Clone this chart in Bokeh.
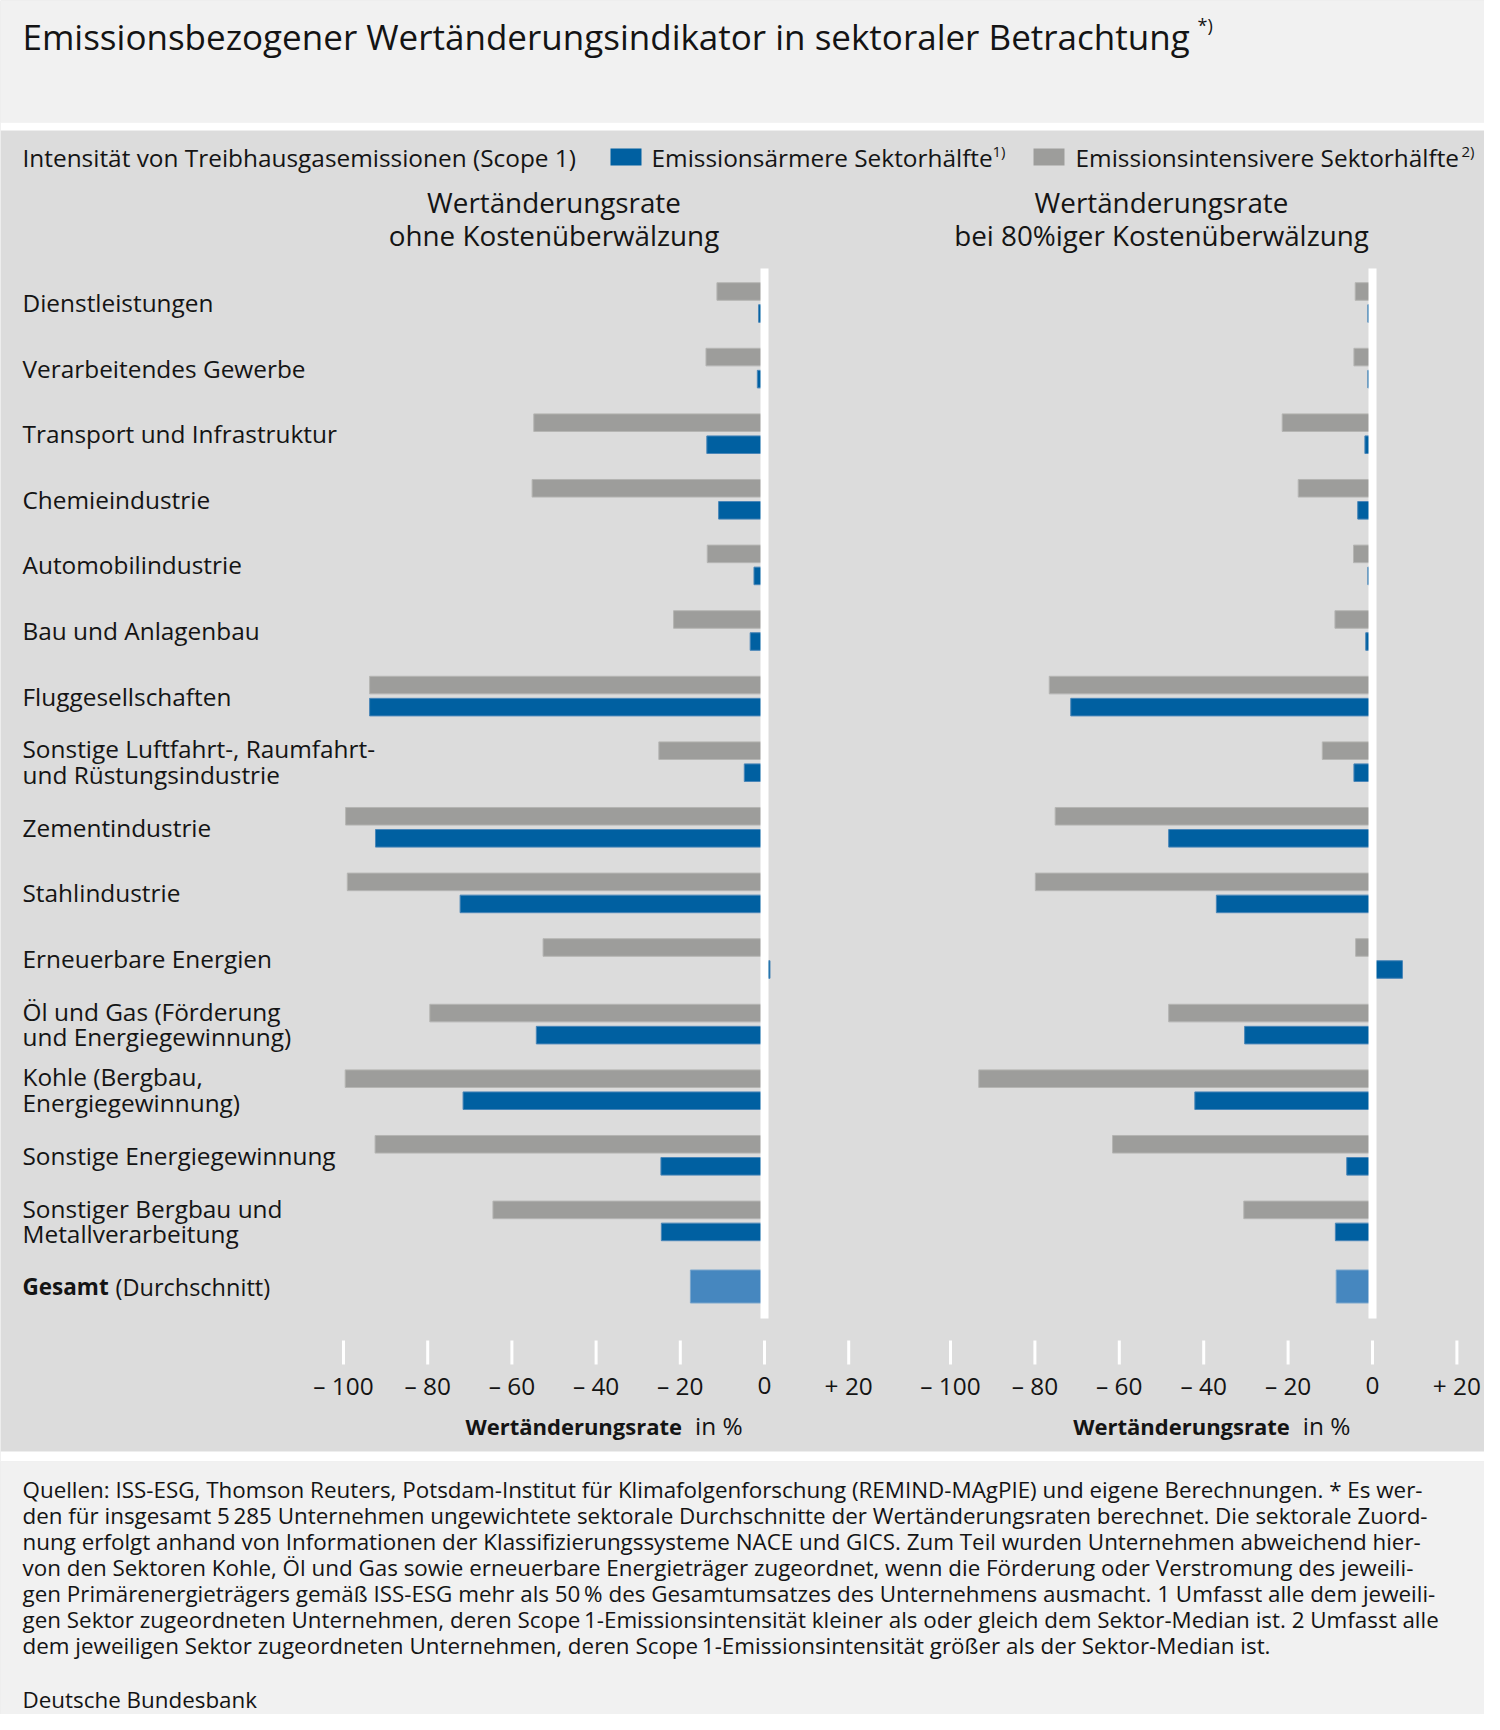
import numpy as np
from bokeh.plotting import figure
from bokeh.models import Range1d, ColumnDataSource
from bokeh.core.properties import value
from bokeh.embed import file_html
from bokeh.resources import INLINE

# ---------------- data ----------------
sectors = [
    "Dienstleistungen",
    "Verarbeitendes Gewerbe",
    "Transport und Infrastruktur",
    "Chemieindustrie",
    "Automobilindustrie",
    "Bau und Anlagenbau",
    "Fluggesellschaften",
    "Sonstige Luftfahrt-, Raumfahrt-\nund Rüstungsindustrie",
    "Zementindustrie",
    "Stahlindustrie",
    "Erneuerbare Energien",
    "Öl und Gas (Förderung\nund Energiegewinnung)",
    "Kohle (Bergbau,\nEnergiegewinnung)",
    "Sonstige Energiegewinnung",
    "Sonstiger Bergbau und\nMetallverarbeitung",
]
# Wertänderungsrate ohne Kostenüberwälzung (in %)
ohne_aermer = [-1.4, -1.7, -13.7, -10.9, -2.5, -3.4, -93.8, -4.8, -92.4, -72.3, 1.3, -54.2, -71.6, -24.6, -24.5]
ohne_intensiver = [-11.3, -13.9, -54.8, -55.2, -13.6, -21.6, -93.8, -25.1, -99.5, -99.1, -52.6, -79.5, -99.6, -92.5, -64.5]
# Wertänderungsrate bei 80%iger Kostenüberwälzung (in %)
k80_aermer = [-1.1, -1.1, -1.8, -3.5, -1.1, -1.6, -71.5, -4.4, -48.3, -37.0, 7.1, -30.3, -42.1, -6.1, -8.8]
k80_intensiver = [-4.1, -4.4, -21.4, -17.6, -4.5, -8.9, -76.6, -11.9, -75.2, -79.9, -4.0, -48.3, -93.3, -61.6, -30.5]
# Gesamt (Durchschnitt)
gesamt_label = ["Gesamt", "(Durchschnitt)"]
gesamt_ohne = -17.6
gesamt_k80 = -8.6

tick_values = [-100, -80, -60, -40, -20, 0, 20]
tick_labels = ["\u2013 100", "\u2013 80", "\u2013 60", "\u2013 40", "\u2013 20", "0", "+ 20"]

title = "Emissionsbezogener Wertänderungsindikator in sektoraler Betrachtung"
legend_title = "Intensität von Treibhausgasemissionen (Scope 1)"
legend_items = ["Emissionsärmere Sektorhälfte", "Emissionsintensivere Sektorhälfte"]
panel_titles = [["Wertänderungsrate", "ohne Kostenüberwälzung"],
                ["Wertänderungsrate", "bei 80%iger Kostenüberwälzung"]]
axis_title = ["Wertänderungsrate", "in %"]
footnote_lines = [
    "Quellen: ISS-ESG, Thomson Reuters, Potsdam-Institut für Klimafolgenforschung (REMIND-MAgPIE) und eigene Berechnungen. * Es wer-",
    "den für insgesamt 5\u2009285 Unternehmen ungewichtete sektorale Durchschnitte der Wertänderungsraten berechnet. Die sektorale Zuord-",
    "nung erfolgt anhand von Informationen der Klassifizierungssysteme NACE und GICS. Zum Teil wurden Unternehmen abweichend hier-",
    "von den Sektoren Kohle, Öl und Gas sowie erneuerbare Energieträger zugeordnet, wenn die Förderung oder Verstromung des jeweili-",
    "gen Primärenergieträgers gemäß ISS-ESG mehr als 50\u2009% des Gesamtumsatzes des Unternehmens ausmacht. 1 Umfasst alle dem jeweili-",
    "gen Sektor zugeordneten Unternehmen, deren Scope\u20091-Emissionsintensität kleiner als oder gleich dem Sektor-Median ist. 2 Umfasst alle",
    "dem jeweiligen Sektor zugeordneten Unternehmen, deren Scope\u20091-Emissionsintensität größer als der Sektor-Median ist.",
]
source_line = "Deutsche Bundesbank"

# ---------------- styles / layout ----------------
FONT = "Open Sans"
TXT = "#141414"
BLUE = "#0060a1"
GRAY = "#9d9d9b"
LBLUE = "#4687bf"
PANEL_BG = "#dcdcdc"
BAND_BG = "#f1f1f1"

PAGE_W, PAGE_H, M = 1500, 1730, 8
W, H = PAGE_W - 2 * M, PAGE_H - 2 * M

# panel scale: zero position (px) and px per percentage point
PANELS = {"L": (764.0, 4.21), "R": (1372.0, 4.22)}
ROW0, ROW_H = 302.0, 65.6

p = figure(width=W, height=H, output_backend="svg", toolbar_location=None,
           x_range=Range1d(0, W), y_range=Range1d(H, 0),
           x_axis_location=None, y_axis_location=None, min_border=0,
           outline_line_color=None, background_fill_color=PANEL_BG,
           border_fill_color="white")
p.grid.grid_line_color = None
p.extra_x_ranges = {k: Range1d((0 - z) / s, (W - z) / s) for k, (z, s) in PANELS.items()}
p.extra_y_ranges = {"rows": Range1d((H - ROW0) / ROW_H, (0 - ROW0) / ROW_H)}

# background bands
p.quad(left=[0, 0, 0], right=[PAGE_W] * 3, top=[0, 122, 1451], bottom=[122, 130, 1461],
       fill_color=[BAND_BG, "white", "white"], line_color=None)
p.quad(left=0, right=PAGE_W, top=1461, bottom=PAGE_H, fill_color=BAND_BG, line_color=None)

def txt(x, y, text, size, bold=False, align="left", baseline="middle", **kw):
    p.text(x=x, y=y, text=text, text_font=value(FONT), text_font_size=size,
           text_font_style="bold" if bold else "normal", text_align=align,
           text_baseline=baseline, text_color=TXT, **kw)

# title
txt([22], [36], [title], "35px")
txt([1197], [24], ["*)"], "18px")

# legend
txt([22], [157], [legend_title], "24.4px")
p.quad(left=[610, 1033], right=[641, 1064], top=[148, 148], bottom=[165, 165],
       fill_color=[BLUE, GRAY], line_color=None)
txt([651, 1075], [157, 157], legend_items, "24.4px")
txt([992, 1461], [150, 150], ["1)", "2)"], "15px")

# bars
n = len(sectors)
idx = np.arange(n)
for name, aermer, intens, tot, ptitle in [("L", ohne_aermer, ohne_intensiver, gesamt_ohne, panel_titles[0]),
                                           ("R", k80_aermer, k80_intensiver, gesamt_k80, panel_titles[1])]:
    src = ColumnDataSource(dict(y_i=idx - 0.168, y_a=idx + 0.168, intens=intens, aermer=aermer))
    p.hbar(y="y_i", height=0.268, left=0, right="intens", source=src, fill_color=GRAY,
           line_color="#b5b5b3", line_width=1, x_range_name=name, y_range_name="rows")
    p.hbar(y="y_a", height=0.268, left=0, right="aermer", source=src, fill_color=BLUE,
           line_color="#4a86b8", line_width=1, x_range_name=name, y_range_name="rows")
    p.hbar(y=[n], height=0.503, left=0, right=[tot], fill_color=LBLUE,
           line_color="#7aa6cc", line_width=1, x_range_name=name, y_range_name="rows")
    # zero line
    p.segment(x0=[0], y0=[268], x1=[0], y1=[1318], line_color="white", line_width=8,
              x_range_name=name)
    # ticks
    p.segment(x0=tick_values, y0=[1340] * len(tick_values), x1=tick_values, y1=[1364] * len(tick_values),
              line_color="white", line_width=3, x_range_name=name)
    txt(tick_values, [1385] * len(tick_values), tick_labels, "24.4px", align="center", x_range_name=name)
    # axis title
    txt([-19.6], [1425], [axis_title[0]], "22px", bold=True, align="right", x_range_name=name)
    txt([-16.5], [1425], [axis_title[1]], "24.4px", align="left", x_range_name=name)
    # panel titles
    txt([-50, -50], [201, 234], ptitle, "27.8px", align="center", x_range_name=name)

# category labels
lx, ly, lt = [], [], []
for k, s in enumerate(sectors):
    parts = s.split("\n")
    offs = [0.0] if len(parts) == 1 else [-0.194, 0.194]
    for part, o in zip(parts, offs):
        lx.append(22); ly.append(k + o); lt.append(part)
txt(lx, ly, lt, "24.4px", y_range_name="rows")
txt([22], [n], [gesamt_label[0]], "22.5px", bold=True, y_range_name="rows")
txt([115], [n], [gesamt_label[1]], "23.5px", y_range_name="rows")

# footnotes
fy = [1489, 1515, 1541, 1567, 1593, 1619, 1645]
txt([22] * len(footnote_lines), fy, footnote_lines, "22.4px")
txt([22], [1699], [source_line], "22.4px")

open("out.html", "w").write(file_html(p, INLINE))
